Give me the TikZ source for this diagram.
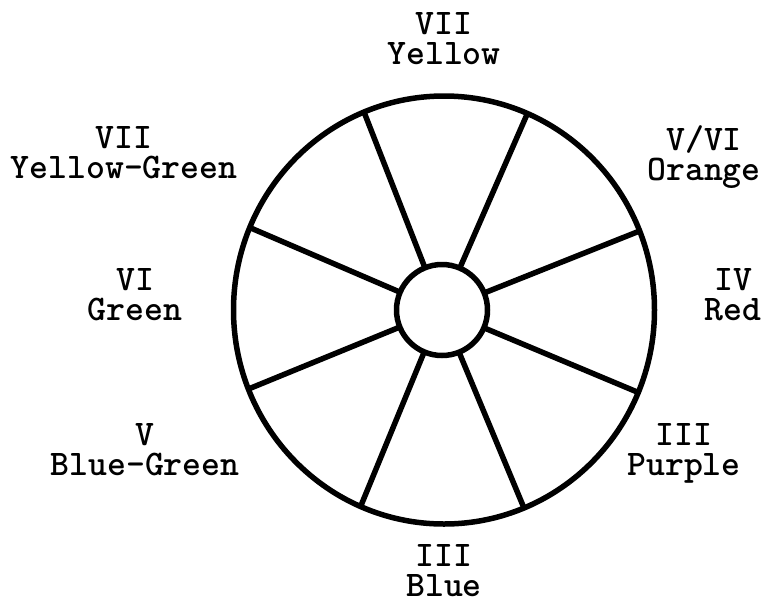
\documentclass[tikz,border=0pt]{standalone}
\usetikzlibrary{shapes.geometric}
\begin{document}
\begin{tikzpicture}[x=1pt,y=-1pt,
  ring/.style={draw=black,line width=5.5pt,outer sep=0pt,inner sep=0pt},
  spoke/.style={draw=black,line width=5.5pt},
  lbl/.style={anchor=north,inner sep=0pt,align=center,font=\ttfamily\bfseries\fontsize{36}{30}\selectfont}]
\useasboundingbox[fill=white] (0,0) rectangle (763,598);
\node[ring,ellipse,minimum width=421pt,minimum height=428pt] (rim) at (444,310) {};
\node[ring,circle,minimum size=91pt] (hub) at (442,310) {};
\foreach \a in {22.5,67.5,112.5,157.5,202.5,247.5,292.5,337.5}
  \draw[spoke] (hub.\a) -- (rim.\a);
\node[lbl] (yellow) at (444,12) {VII\\Yellow};
\node[lbl] (yg) at (124,126) {VII\\Yellow-Green};
\node[lbl] (orange) at (704,125) {V/VI\\Orange};
\node[lbl] (green) at (135,268) {VI\\Green};
\node[lbl] (red) at (733,268) {IV\\Red};
\node[lbl] (bg) at (145,423) {V\\Blue-Green};
\node[lbl] (purple) at (684,423) {III\\Purple};
\node[lbl] (blue) at (444,544) {III\\Blue};
\end{tikzpicture}
\end{document}
